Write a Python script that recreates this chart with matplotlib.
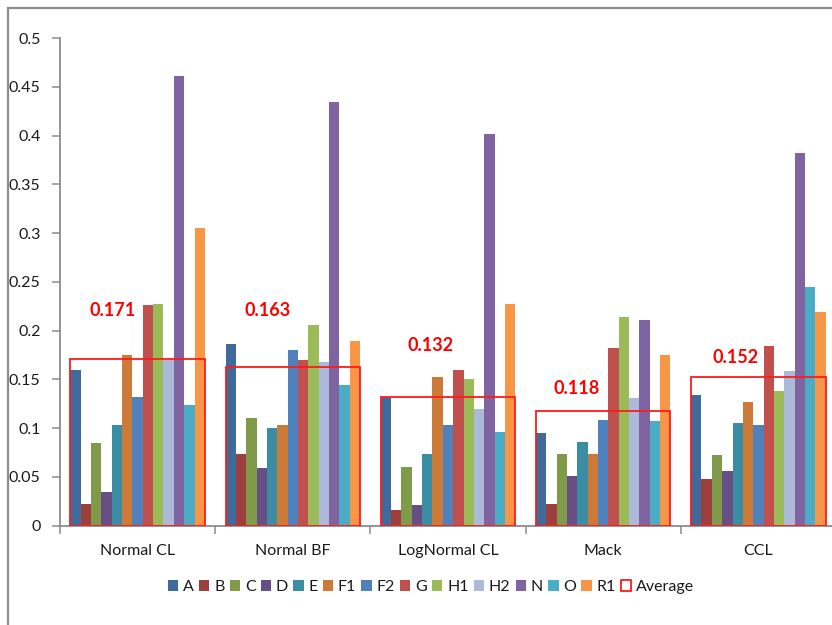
import numpy as np
import matplotlib.pyplot as plt
from matplotlib.patches import Patch, Rectangle

plt.rcParams['font.family'] = ['Lato', 'DejaVu Sans']

# methods on the x axis and the series plotted for each
methods = ['Normal CL', 'Normal BF', 'LogNormal CL', 'Mack', 'CCL']
series = ['A', 'B', 'C', 'D', 'E', 'F1', 'F2', 'G', 'H1', 'H2', 'N', 'O', 'R1']

normal_cl = [0.160, 0.022, 0.085, 0.035, 0.103, 0.175, 0.132, 0.226, 0.227, 0.170, 0.461, 0.124, 0.305]
normal_bf = [0.186, 0.073, 0.110, 0.059, 0.100, 0.103, 0.180, 0.170, 0.206, 0.168, 0.434, 0.144, 0.189]
lognormal_cl = [0.132, 0.016, 0.060, 0.021, 0.074, 0.152, 0.103, 0.160, 0.150, 0.120, 0.402, 0.096, 0.227]
mack = [0.095, 0.022, 0.073, 0.051, 0.086, 0.074, 0.108, 0.182, 0.214, 0.131, 0.211, 0.107, 0.175]
ccl = [0.134, 0.048, 0.072, 0.056, 0.105, 0.127, 0.103, 0.184, 0.138, 0.159, 0.382, 0.245, 0.219]

averages = [0.171, 0.163, 0.132, 0.118, 0.152]

colors = ['#3F6A9C', '#9C3F3D', '#7F9A48', '#674F86', '#3A8DA3', '#CB7A37', '#4F81BD',
          '#C0504D', '#9BBB59', '#AABAD8', '#8064A2', '#4BACC6', '#F79646']

values = np.array([normal_cl, normal_bf, lognormal_cl, mack, ccl])

fig = plt.figure(figsize=(8.32, 6.25), dpi=100)
ax = fig.add_axes([60 / 832, 99.3 / 625, 776 / 832, 487.7 / 625])

# 15 slots per group: one empty slot each side, 13 bars in the middle
w = 1 / 15
x0 = np.arange(len(methods))
for j, name in enumerate(series):
    ax.bar(x0 + (j + 1.5) * w, values[:, j], width=w, color=colors[j],
           edgecolor='none', label=name, zorder=2)

# average box around each group's bars, with its value written above
label_y = [0.221, 0.221, 0.185, 0.141, 0.172]
label_dx = [-0.16, -0.16, -0.11, -0.17, -0.15]
for i, avg in enumerate(averages):
    ax.add_patch(Rectangle((i + w, 0), 13 * w, avg, fill=False,
                           edgecolor='#FF1A1A', linewidth=1.3, zorder=3))
    ax.text(i + 0.5 + label_dx[i], label_y[i], '%.3f' % avg, color='#FF0000',
            fontsize=13, fontweight='bold', ha='center', va='center')

ax.set_xlim(0, 5)
ax.set_ylim(0, 0.5)
ax.set_yticks(np.arange(0, 0.51, 0.05))
ax.set_yticklabels(['0', '0.05', '0.1', '0.15', '0.2', '0.25', '0.3', '0.35',
                    '0.4', '0.45', '0.5'])
ax.set_xticks(x0 + 0.5)
ax.set_xticklabels(methods)
ax.set_xticks(np.arange(0, 6), minor=True)

for side in ['top', 'right']:
    ax.spines[side].set_visible(False)
for side in ['left', 'bottom']:
    ax.spines[side].set_color('#8C8C8C')
    ax.spines[side].set_linewidth(1.3)

ax.tick_params(axis='y', direction='out', length=6, width=1.1, color='#8C8C8C',
               labelsize=11.5, pad=8, labelcolor='#1a1a1a')
ax.tick_params(axis='x', which='major', length=0, labelsize=11.5, pad=13,
               labelcolor='#1a1a1a')
ax.tick_params(axis='x', which='minor', direction='out', length=6, width=1.1,
               color='#8C8C8C')

handles, labels = ax.get_legend_handles_labels()
handles.append(Patch(facecolor='white', edgecolor='#FF1A1A', linewidth=1.3))
labels.append('Average')
fig.legend(handles, labels, loc='center', bbox_to_anchor=(431 / 832, 38 / 625),
           ncol=14, frameon=False, fontsize=11.5, handlelength=0.65,
           handleheight=0.65, handletextpad=0.3, columnspacing=0.32,
           labelcolor='#1a1a1a')

# chart frame
fig.add_artist(Rectangle((8 / 832, -0.2), 1.2, 1.2 - 8 / 625,
                         transform=fig.transFigure, fill=False,
                         edgecolor='#8C8C8C', linewidth=1.6))

fig.savefig('out.png', dpi=100)
